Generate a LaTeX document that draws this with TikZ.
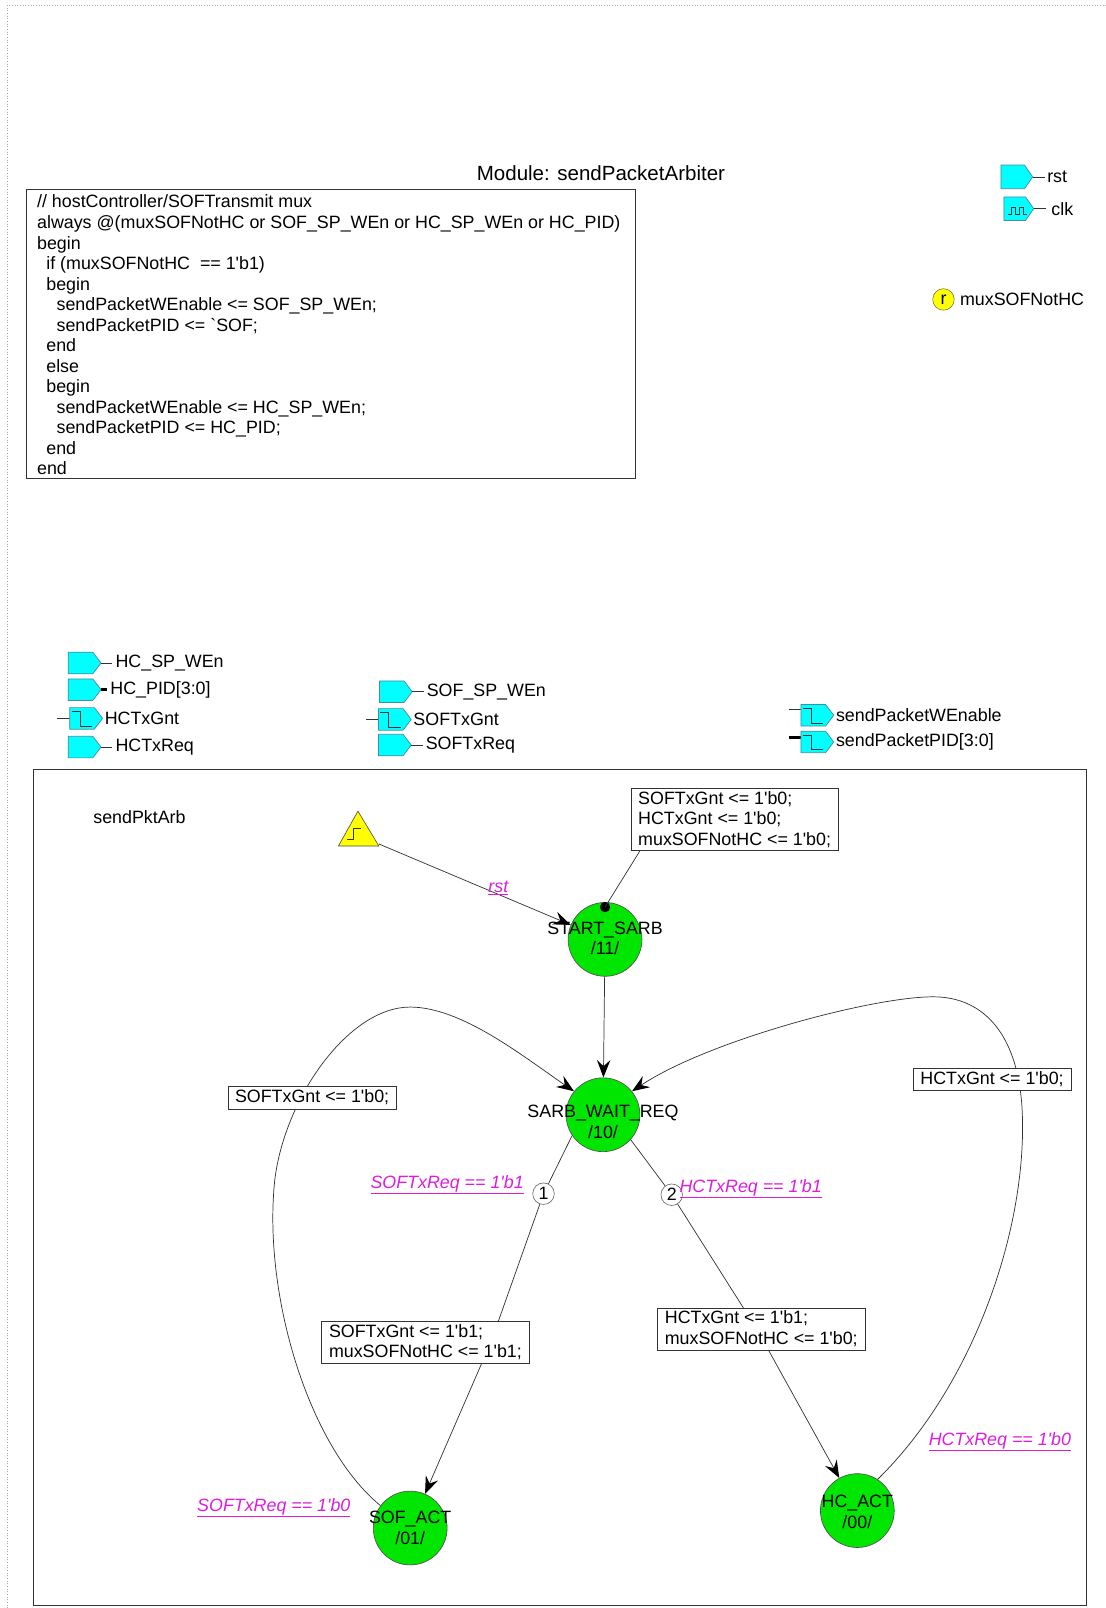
\documentclass[tikz,border=0pt]{standalone}
\usepackage{fontspec}
\setmainfont{Liberation Sans}
\usetikzlibrary{arrows.meta}
\definecolor{portc}{RGB}{0,255,255}
\definecolor{portd}{RGB}{70,140,160}
\definecolor{stg}{RGB}{0,230,0}
\definecolor{mag}{RGB}{220,30,220}
\definecolor{yel}{RGB}{255,255,0}
\newcommand\fs{\fontsize{17.4}{20}\selectfont}
\newcommand\q{\textquotesingle}
\tikzset{
  wire/.style={draw=black!80, line width=0.7pt},
  thickwire/.style={draw=black, line width=3pt},
  portst/.style={draw=portd, fill=portc, line width=0.7pt},
  glyph/.style={draw=black!80, line width=0.7pt},
  ptxt/.style={anchor=west, inner sep=0pt, font=\fs},
  st/.style={circle, draw=black!70, fill=stg, minimum size=72pt, inner sep=0pt, line width=0.6pt},
  stxt/.style={align=center, inner sep=0pt, font=\fs},
  act/.style={draw=black!80, fill=white, align=left, inner xsep=0pt, inner ysep=1pt, anchor=north west, font=\fs, line width=0.7pt},
  cond/.style={text=mag, font=\fs\itshape, inner sep=0pt},
  numc/.style={circle, draw=black!60, fill=white, minimum size=21pt, inner sep=0pt, font=\fs, line width=0.6pt},
  arr/.style={wire, -{Stealth[length=17pt,width=13pt,inset=6pt,black,line width=1pt]}},
}
% input port: x, ytop, h, name, label
\newcommand\pin[5]{%
  \draw[portst] (#1,#2) -- ++(24,0) -- ++(8,#3/2) -- ++(-8,#3/2) -- ++(-24,0) -- cycle;
  \draw[wire] (#1+32,#2+#3/2) -- ++(11,0);
  \node[ptxt] (#4) at (#1+46,#2+#3/2) {#5};}
\newcommand\pinthick[5]{%
  \draw[portst] (#1,#2) -- ++(24,0) -- ++(8,#3/2) -- ++(-8,#3/2) -- ++(-24,0) -- cycle;
  \draw[thickwire] (#1+32,#2+#3/2) -- ++(6,0);
  \node[ptxt] (#4) at (#1+41,#2+#3/2) {#5};}
% output port: x, ytop, h, name, label, wire offset
\newcommand\pout[6]{%
  \draw[wire] (#1-12,#2+#6) -- (#1,#2+#6);
  \draw[portst] (#1,#2) -- ++(24,0) -- ++(8,#3/2) -- ++(-8,#3/2) -- ++(-24,0) -- cycle;
  \draw[glyph] (#1+2,#2+4) -- (#1+10,#2+4) -- (#1+10,#2+#3-3) -- (#1+22,#2+#3-3);
  \node[ptxt] (#4) at (#1+34,#2+#3/2) {#5};}
\newcommand\poutthick[6]{%
  \draw[thickwire] (#1-12,#2+#6) -- (#1,#2+#6);
  \draw[portst] (#1,#2) -- ++(24,0) -- ++(8,#3/2) -- ++(-8,#3/2) -- ++(-24,0) -- cycle;
  \draw[glyph] (#1+2,#2+4) -- (#1+10,#2+4) -- (#1+10,#2+#3-3) -- (#1+22,#2+#3-3);
  \node[ptxt] (#4) at (#1+34,#2+#3/2) {#5};}
\begin{document}
\begin{tikzpicture}[x=1pt,y=-1pt]
\fill[white] (0,0) rectangle (1078,1568);
\useasboundingbox (0,0) rectangle (1078,1568);
% page border
\draw[gray!70, dotted, line width=0.6pt] (7,1568) -- (7,5) -- (1078,5);

% title and code
\node[font=\fontsize{20}{24}\selectfont, inner sep=0pt] (title) at (586,169) {Module: sendPacketArbiter};
\draw[wire] (26,185) rectangle (620,466);
\node[anchor=north west, inner sep=0pt, align=left, font=\fs] (code) at (36,190) {%
// hostController/SOFTransmit mux\\
always @(muxSOFNotHC or SOF\_SP\_WEn or HC\_SP\_WEn or HC\_PID)\\
begin\\
\hspace*{9pt}if (muxSOFNotHC\ \ == 1\q b1)\\
\hspace*{9pt}begin\\
\hspace*{19pt}sendPacketWEnable <= SOF\_SP\_WEn;\\
\hspace*{19pt}sendPacketPID <= \textasciigrave SOF;\\
\hspace*{9pt}end\\
\hspace*{9pt}else\\
\hspace*{9pt}begin\\
\hspace*{19pt}sendPacketWEnable <= HC\_SP\_WEn;\\
\hspace*{19pt}sendPacketPID <= HC\_PID;\\
\hspace*{9pt}end\\
end};

% rst / clk
\draw[portst] (976,161) -- ++(23,0) -- ++(8,11.5) -- ++(-8,11.5) -- ++(-23,0) -- cycle;
\draw[wire] (1007,172.5) -- (1019,172.5);
\node[ptxt] (rst) at (1021,172.5) {rst};
\draw[portst] (979,192) -- ++(21,0) -- ++(8,11.5) -- ++(-8,11.5) -- ++(-21,0) -- cycle;
\draw[glyph] (983,209) -- ++(3,0) -- ++(0,-7) -- ++(4,0) -- ++(0,7) -- ++(4,0) -- ++(0,-7) -- ++(4,0) -- ++(0,7) -- ++(3,0);
\draw[wire] (1008,203.5) -- (1020,203.5);
\node[ptxt] (clk) at (1025,203.5) {clk};

% register
\node[circle, draw=black!70, fill=yel, minimum size=21pt, inner sep=0pt, font=\fs] (reg) at (920,292) {r};
\node[ptxt] (regt) at (936,292) {muxSOFNotHC};

% left ports
\pin{66.5}{636}{21}{p1}{HC\_SP\_WEn}
\pinthick{66.5}{662}{21}{p2}{HC\_PID[3:0]}
\pout{68}{690}{21}{p3}{HCTxGnt}{10.5}
\pin{66.5}{718}{21}{p4}{HCTxReq}
% middle ports
\pin{370}{664}{21}{p5}{SOF\_SP\_WEn}
\pout{369}{691}{21}{p6}{SOFTxGnt}{10.5}
\pin{369}{716}{21}{p7}{SOFTxReq}
% right ports
\pout{781}{687}{21}{p8}{sendPacketWEnable}{5}
\poutthick{781}{713}{21}{p9}{sendPacketPID[3:0]}{6}

% state machine box
\draw[wire] (33,750) rectangle (1059,1565);
\node[font=\fs, inner sep=0pt] (smname) at (136,797) {sendPktArb};

% reset triangle
\draw[draw=black!70, fill=yel, line width=0.6pt] (349,791) -- (369.5,825) -- (330,825) -- cycle;
\draw[glyph] (338,818.5) -- (345,818.5) -- (345,808) -- (352,808);
\coordinate (trig) at (369.5,823);

% states
\node[st] (start) at (590,916) {};
\node[st] (wait) at (588,1087) {};
\node[st] (sof) at (400,1490) {};
\node[st] (hc) at (836,1473) {};

% numbered priority circles
\node[numc] (c1) at (530,1164) {1};
\node[numc] (c2) at (655,1165) {2};

\coordinate (q1) at (479,1308);
\coordinate (q2) at (738,1296);
\coordinate (k1) at (268,1150);
\coordinate (k2) at (400,982);
\coordinate (k3) at (997,1090);
\coordinate (k4) at (910,972);

% connectors
\draw[arr] (trig) -- (start);
\draw[arr] (start) -- (wait);
\draw[wire] (wait.-146) -- (c1);
\draw[arr] (c1) -- (q1) -- (sof);
\draw[wire] (wait.-42) -- (c2);
\draw[arr] (c2) -- (q2) -- (hc);
\draw[arr] (sof.143) .. controls (300,1410) and (256,1260) .. (k1) .. controls (278,1070) and (340,982) .. (k2) .. controls (450,982) and (510,1030) .. (wait.141);
\draw[arr] (hc.57) .. controls (950,1350) and (1000,1200) .. (k3) .. controls (995,1010) and (960,972) .. (k4) .. controls (850,972) and (690,1015) .. (wait.39);

% state labels
\node[stxt] (startL) at (590,915) {START\_SARB\\/11/};
\node[stxt] (waitL) at (588,1094) {SARB\_WAIT\_REQ\\/10/};
\node[stxt] (sofL) at (400,1490) {SOF\_ACT\\/01/};
\node[stxt] (hcL) at (836,1474) {HC\_ACT\\/00/};

% action boxes
\node[act, minimum width=202pt, minimum height=61pt] (sa) at (615,768) {SOFTxGnt <= 1\q b0;\\HCTxGnt <= 1\q b0;\\muxSOFNotHC <= 1\q b0;};
\node[fill=black, circle, minimum size=10pt, inner sep=0pt] (dot) at (590,884.5) {};
\draw[wire] ([xshift=9pt]sa.south west) -- (dot.center);
\node[act, minimum width=203pt, minimum height=41pt] (b1) at (313,1288) {SOFTxGnt <= 1\q b1;\\muxSOFNotHC <= 1\q b1;};
\node[act, minimum width=202pt, minimum height=41pt] (b2) at (641,1275) {HCTxGnt <= 1\q b1;\\muxSOFNotHC <= 1\q b0;};
\node[act, minimum width=164pt, minimum height=22pt] (b3) at (222,1059) {SOFTxGnt <= 1\q b0;};
\node[act, minimum width=154pt, minimum height=22pt] (b4) at (890,1041) {HCTxGnt <= 1\q b0;};

% conditions
\node[cond] (lrst) at (486,866) {\underline{rst}};
\node[cond] (lc1) at (436,1155) {\underline{SOFTxReq == 1\q b1}};
\node[cond] (lc2) at (732,1159) {\underline{HCTxReq == 1\q b1}};
\node[cond] (lc3) at (267,1470) {\underline{SOFTxReq == 1\q b0}};
\node[cond] (lc4) at (975,1406) {\underline{HCTxReq == 1\q b0}};
\end{tikzpicture}
\end{document}
